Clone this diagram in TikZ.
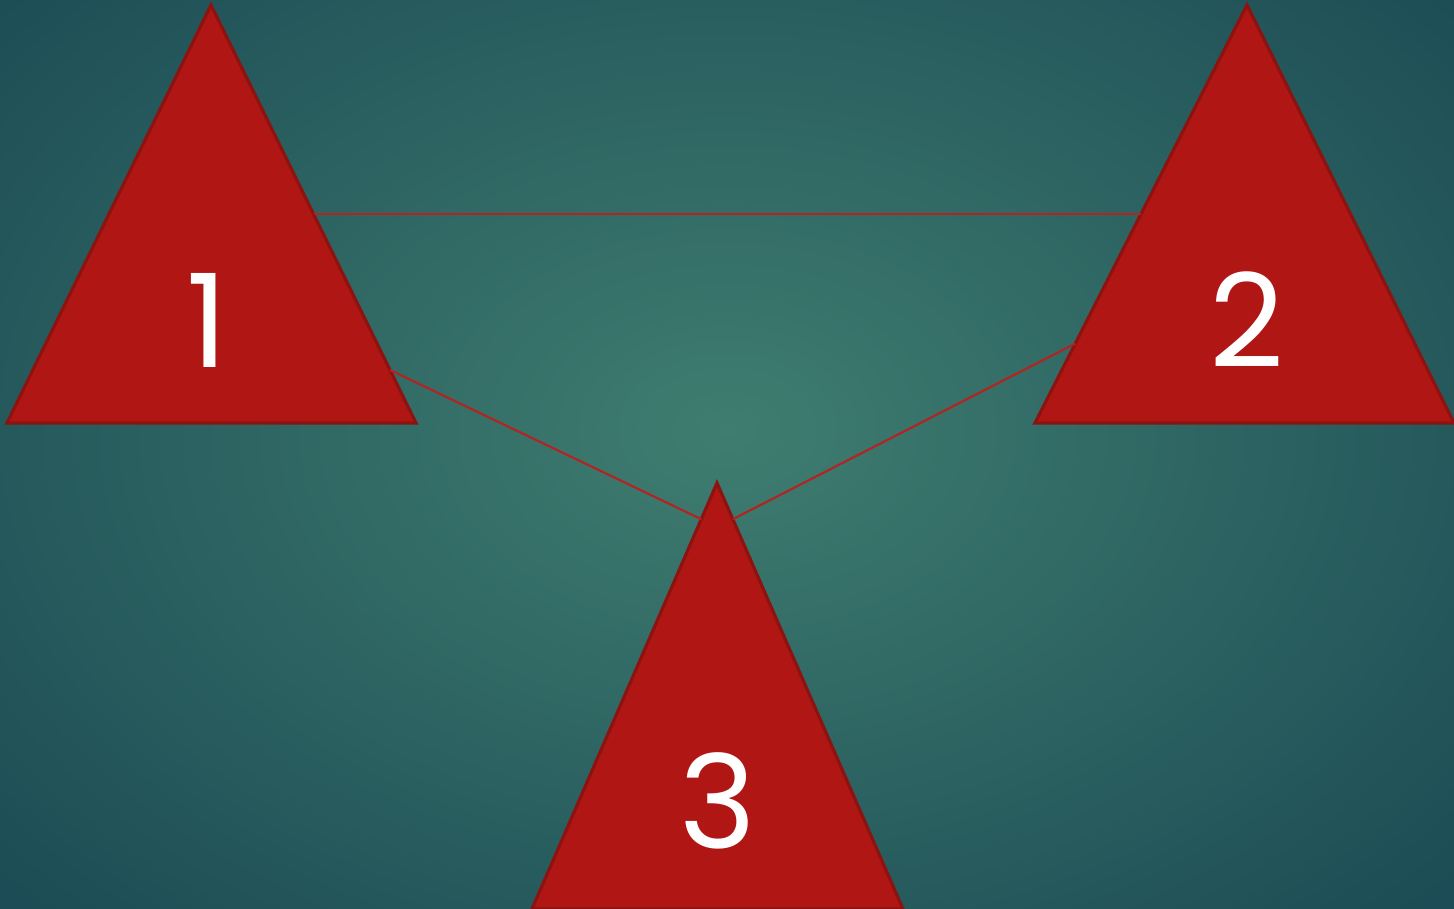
\documentclass[tikz,border=0pt]{standalone}
\usepackage{fontspec}
\setmainfont{Poppins}
\usetikzlibrary{calc}
\definecolor{slate}     {HTML}{1C4C55}
\definecolor{sea}       {HTML}{3F7D70}
\definecolor{brick}     {HTML}{B01714}
\definecolor{darkbrick} {HTML}{8C1310}
\tikzset{
  % --- shapes
  tri/.style  = {fill=brick, draw=darkbrick, line width=0.9pt, line join=miter},
  num/.style  = {text=white, inner sep=0pt, font=\fontsize{37}{40}\selectfont},
  % --- edges
  link/.style = {draw=brick!95!white, line width=0.6pt},
}

\begin{document}
\begin{tikzpicture}[x=0.01cm,y=-0.01cm]
  \useasboundingbox (0,0) rectangle (1454,909);
  \clip (0,0) rectangle (1454,909);
  % backdrop
  \fill[slate] (0,0) rectangle (1454,909);
  \shade[inner color=sea, outer color=slate] (-250,-250) rectangle (1704,1109);
  % three triangles: apex, left and right corner
  \foreach \n/\ax/\ay/\lx/\rx/\by in {1/211/5/7/416/423,
                                     2/1247/5/1035/1454/423,
                                     3/717/483/532/903/909}
  {
    \coordinate (a\n) at (\ax,\ay);
    \coordinate (l\n) at (\lx,\by);
    \coordinate (r\n) at (\rx,\by);
    \draw[tri] (a\n) -- (l\n) -- (r\n) -- cycle;
  }
  % labels
  \node[num] (n1) at (207,320) {1};
  \node[num] (n2) at (1247,320) {2};
  \node[num] (n3) at (718,801) {3};
  % links between the sides
  \draw[link] ($(a1)!0.5!(r1)$) -- ($(a2)!0.5!(l2)$);
  \draw[link] ($(a1)!0.873!(r1)$) -- ($(a3)!0.085!(l3)$);
  \draw[link] ($(a3)!0.085!(r3)$) -- ($(a2)!0.81!(l2)$);
\end{tikzpicture}
\end{document}
